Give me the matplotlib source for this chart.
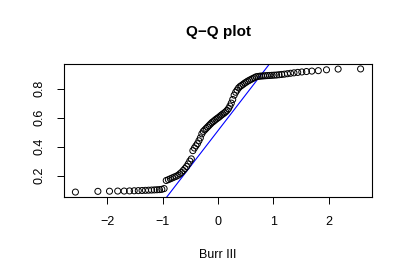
import matplotlib
matplotlib.use("Agg")
import matplotlib.pyplot as plt
import numpy as np

# Theoretical normal quantiles (ppoints(100))
theoretical = [
    -2.576, -2.170, -1.960, -1.812, -1.695, -1.598, -1.514, -1.440, -1.372, -1.311,
    -1.254, -1.200, -1.150, -1.103, -1.058, -1.015, -0.974, -0.935, -0.896, -0.860,
    -0.824, -0.789, -0.755, -0.722, -0.690, -0.659, -0.628, -0.598, -0.568, -0.539,
    -0.510, -0.482, -0.454, -0.426, -0.399, -0.372, -0.345, -0.319, -0.292, -0.266,
    -0.240, -0.215, -0.189, -0.164, -0.138, -0.113, -0.088, -0.063, -0.038, -0.013,
    0.013, 0.038, 0.063, 0.088, 0.113, 0.138, 0.164, 0.189, 0.215, 0.240,
    0.266, 0.292, 0.319, 0.345, 0.372, 0.399, 0.426, 0.454, 0.482, 0.510,
    0.539, 0.568, 0.598, 0.628, 0.659, 0.690, 0.722, 0.755, 0.789, 0.824,
    0.860, 0.896, 0.935, 0.974, 1.015, 1.058, 1.103, 1.150, 1.200, 1.254,
    1.311, 1.372, 1.440, 1.514, 1.598, 1.695, 1.812, 1.960, 2.170, 2.576,
]

# Sorted sample values
sample = [
    0.086, 0.091, 0.092, 0.093, 0.093, 0.094, 0.095, 0.096, 0.097, 0.098,
    0.099, 0.100, 0.101, 0.102, 0.103, 0.105, 0.110, 0.166, 0.172, 0.178,
    0.184, 0.190, 0.195, 0.202, 0.212, 0.222, 0.235, 0.248, 0.262, 0.280,
    0.300, 0.315, 0.372, 0.390, 0.405, 0.420, 0.440, 0.460, 0.488, 0.505,
    0.515, 0.525, 0.535, 0.545, 0.555, 0.565, 0.572, 0.580, 0.588, 0.595,
    0.602, 0.610, 0.618, 0.625, 0.632, 0.640, 0.650, 0.662, 0.680, 0.700,
    0.725, 0.755, 0.775, 0.790, 0.805, 0.815, 0.822, 0.830, 0.838, 0.845,
    0.852, 0.858, 0.864, 0.870, 0.876, 0.882, 0.884, 0.886, 0.887, 0.888,
    0.889, 0.890, 0.891, 0.892, 0.893, 0.894, 0.896, 0.898, 0.900, 0.903,
    0.906, 0.909, 0.912, 0.915, 0.918, 0.921, 0.924, 0.930, 0.935, 0.936,
]

# Reference line (intercept, slope)
line_intercept = 0.51
line_slope = 0.495

x_ticks = [-2, -1, 0, 1, 2]
y_ticks = [0.2, 0.4, 0.6, 0.8]
title = "Q\u2212Q plot"
x_label = "Burr III"

plt.rcParams['font.family'] = ['Liberation Sans', 'DejaVu Sans']
plt.rcParams['axes.unicode_minus'] = True

W, H = 405, 277
fig = plt.figure(figsize=(W / 100, H / 100), dpi=100)
L, R, T, B = 64, 372, 64, 197
ax = fig.add_axes([L / W, 1 - B / H, (R - L) / W, (B - T) / H])

ax.scatter(theoretical, sample, s=19, facecolors='none', edgecolors='black',
           linewidths=0.7, zorder=3)

xs = np.array([-3.0, 3.0])
ax.plot(xs, line_intercept + line_slope * xs, color='#0000ff', lw=0.8, zorder=2)

xr = max(theoretical) - min(theoretical)
yr = max(sample) - min(sample)
ax.set_xlim(min(theoretical) - 0.04 * xr, max(theoretical) + 0.04 * xr)
ax.set_ylim(min(sample) - 0.04 * yr, max(sample) + 0.04 * yr)

ax.set_xticks(x_ticks)
ax.set_xticklabels([("\u2212" + str(-t)) if t < 0 else str(t) for t in x_ticks])
ax.set_yticks(y_ticks)
ax.set_yticklabels([f"{t:.1f}" for t in y_ticks], rotation=90, va='center')

ax.tick_params(direction='out', length=5, width=0.7, labelsize=9, pad=8.5)
ax.tick_params(axis='y', pad=8)
for s in ax.spines.values():
    s.set_linewidth(0.8)
    s.set_color('black')

ax.set_xlabel(x_label, fontsize=9)
ax.xaxis.set_label_coords(0.5, (B - 255) / (B - T))
ax.xaxis.label.set_va('center')

ax.text(0.5, (B - 32) / (B - T), title, transform=ax.transAxes, ha='center',
        va='center', fontsize=11, fontweight='bold')

fig.savefig("out.png", dpi=100)
